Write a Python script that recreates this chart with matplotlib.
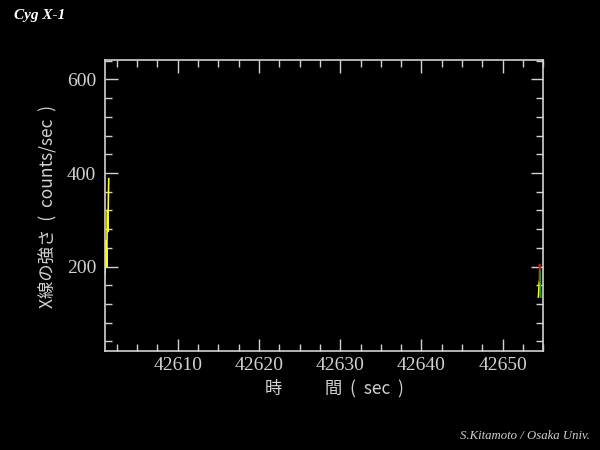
import matplotlib
matplotlib.use("Agg")
import matplotlib.pyplot as plt
from matplotlib.ticker import MultipleLocator

# data
left_t = [42601.05, 42601.10, 42601.15, 42601.20, 42601.25, 42601.30, 42601.35, 42601.40, 42601.45, 42601.50]
left_c = [185, 255, 210, 240, 200, 290, 320, 275, 345, 388]
left_blue_t = [42601.00, 42601.05]
left_blue_c = [160, 185]
right_yellow_t = [42654.40, 42654.45, 42654.50]
right_yellow_c = [135, 150, 168]
right_red_t = [42654.50, 42654.55, 42654.60]
right_red_c = [168, 205, 190]
right_green_t = [42654.60, 42654.65, 42654.70]
right_green_c = [190, 150, 135]

xlim = (42601.0, 42655.0)
ylim = (19, 641)
xticks = [42610, 42620, 42630, 42640, 42650]
yticks = [200, 400, 600]

fg = '#d2d2d2'
fig = plt.figure(figsize=(6, 4.5), dpi=100, facecolor='black')
ax = fig.add_axes([0.1745, 0.2193, 0.731, 0.6467], facecolor='black')

ax.plot(left_blue_t, left_blue_c, color='#1a1a8a', lw=1.2)
ax.plot(left_t, left_c, color='#ffff00', lw=1.2)
ax.plot(right_yellow_t, right_yellow_c, color='#ffff00', lw=1.2)
ax.plot(right_red_t, right_red_c, color='#c02020', lw=1.2)
ax.plot(right_green_t, right_green_c, color='#20a020', lw=1.2)

ax.set_xlim(*xlim)
ax.set_ylim(*ylim)
ax.set_xticks(xticks)
ax.set_yticks(yticks)
ax.xaxis.set_minor_locator(MultipleLocator(2.5))
ax.yaxis.set_minor_locator(MultipleLocator(40))
ax.tick_params(which='both', direction='in', top=True, right=True, colors=fg,
               labelcolor=fg, width=1)
ax.tick_params(which='major', length=9)
ax.tick_params(which='minor', length=5)
ax.tick_params(axis='x', pad=4)
ax.tick_params(axis='y', pad=6)
for lab in ax.get_xticklabels() + ax.get_yticklabels():
    lab.set_fontfamily('Liberation Serif')
    lab.set_fontsize(14)
for s in ax.spines.values():
    s.set_color(fg)
    s.set_linewidth(1.2)

fig.text(48/600, 1 - 207/450, 'X線の強さ  (  counts/sec  )', rotation=90, color=fg,
         ha='center', va='center', fontsize=12.5,
         family=['Noto Sans CJK JP', 'DejaVu Sans'])
fig.text(334/600, 1 - 388/450, '時　　  間  (  sec  )', color=fg,
         ha='center', va='center', fontsize=12.5,
         family=['Noto Sans CJK JP', 'DejaVu Sans'])
fig.text(14/600, 1 - 16/450, 'Cyg X-1', color='white', ha='left', va='center',
         fontsize=11, fontweight='bold', fontstyle='italic', family='Liberation Serif')
fig.text(590/600, 1 - 436/450, 'S.Kitamoto / Osaka Univ.', color=fg, ha='right',
         va='center', fontsize=9.2, fontstyle='italic', family='Liberation Serif')

fig.savefig('out.png', dpi=100, facecolor='black')
